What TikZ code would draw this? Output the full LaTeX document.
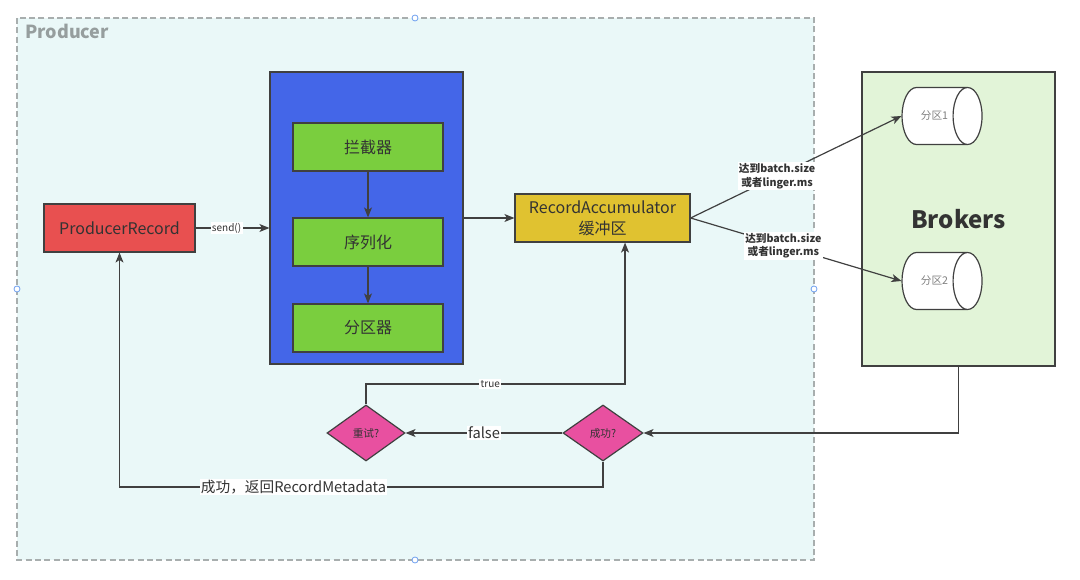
\documentclass[tikz,border=0pt]{standalone}
\usepackage{fontspec}
\setmainfont{Noto Sans CJK SC}
\usetikzlibrary{shapes.geometric,arrows.meta}

\definecolor{producerfill}{RGB}{234,248,248}
\definecolor{producerline}{RGB}{168,174,174}
\definecolor{producergray}{RGB}{150,158,158}
\definecolor{edgegray}{RGB}{64,64,64}
\definecolor{textdark}{RGB}{51,51,51}
\definecolor{recfill}{RGB}{232,80,80}
\definecolor{bluefill}{RGB}{68,102,232}
\definecolor{greenfill}{RGB}{122,206,62}
\definecolor{goldfill}{RGB}{224,194,48}
\definecolor{brokerfill}{RGB}{226,244,216}
\definecolor{pinkfill}{RGB}{232,80,160}
\definecolor{handleblue}{RGB}{110,160,240}

\begin{document}
\begin{tikzpicture}[x=0.75pt,y=0.75pt,yscale=-1,xscale=1,
  box/.style={draw=edgegray,line width=0.9pt,inner sep=0.75pt,text=textdark,font=\fontsize{12}{15.5}\selectfont},
  stage/.style={box,fill=greenfill,minimum width=112.5pt,minimum height=36pt},
  part/.style={cylinder,draw=edgegray,line width=0.9pt,fill=white,minimum height=60pt,minimum width=42.75pt,aspect=3.0,inner sep=0pt,text=gray,font=\fontsize{8}{10}\selectfont},
  decision/.style={diamond,draw=edgegray,line width=0.9pt,fill=pinkfill,minimum width=60pt,minimum height=42pt,inner sep=0pt,text=textdark,font=\fontsize{8}{10}\selectfont},
  edge/.style={draw=edgegray,line width=0.9pt,-{Stealth[length=7.5pt,width=6pt,inset=2pt]}},
  lbl/.style={fill=white,inner sep=1pt,text=textdark},
  batchlbl/.style={lbl,align=center,font=\bfseries\fontsize{8}{10}\selectfont},
  handle/.style={draw=handleblue,fill=white,line width=0.6pt}]
\useasboundingbox (0,0) rectangle (1080,580);

%Producer area
\draw [draw=producerline,fill=producerfill,line width=1pt,dash pattern=on 4.5pt off 2.5pt] (17,18) rectangle (814,560);
% Text Node
\node [anchor=north west,inner sep=0.75pt,text=producergray,font=\bfseries\fontsize{13.5}{16}\selectfont] (producerlbl) at (24,23) {Producer};

%Boxes
\node [box,fill=recfill,minimum width=113.25pt,minimum height=36pt] (rec) at (119.5,228) {ProducerRecord};
\node [box,fill=bluefill,minimum width=144.75pt,minimum height=219pt] (chain) at (366.5,218) {};
\node [stage] (intercept) at (368,147) {拦截器};
\node [stage] (serial) at (368,242) {序列化};
\node [stage] (partsel) at (368,328) {分区器};
\node [box,fill=goldfill,minimum width=131.25pt,minimum height=36pt,align=center] (acc) at (602.5,218) {RecordAccumulator\\缓冲区};
\node [box,fill=brokerfill,minimum width=144.75pt,minimum height=220.5pt,font=\bfseries\fontsize{18}{20}\selectfont] (brokers) at (958.5,219) {Brokers};
\node [part] (p1) at (934.5,116) {分区1};
\node [part] (p2) at (934.5,281) {分区2};
\node [decision] (ok) at (603,433) {成功?};
\node [decision,minimum width=58.5pt] (retry) at (366,433) {重试?};
\coordinate (truebend) at (366,384);
\coordinate (okbend) at (603,487);

%Connectors
\draw [edge] (rec.east) -- node [lbl,pos=0.42,font=\fontsize{7.5}{9}\selectfont] {send()} (rec.east -| chain.west);
\draw [edge] (intercept) -- (serial);
\draw [edge] (serial) -- (partsel);
\draw [edge] (chain.east) -- (acc.west);
\draw [edge] (acc.east) -- node [batchlbl,pos=0.41] {达到batch.size\\或者linger.ms} (p1.west);
\draw [edge] (acc.east) -- node [batchlbl,pos=0.44] {达到batch.size\\或者linger.ms} (p2.west);
\draw [edge] (brokers.south) |- (ok.east);
\draw [edge] (ok.west) -- node [lbl,font=\fontsize{11}{13}\selectfont] {false} (retry.east);
\draw [edge] (retry.north) -- (truebend) -| node [lbl,pos=0.24,font=\fontsize{7.5}{9}\selectfont] {true} ([xshift=16.9pt]acc.south);
\draw [edge] (ok.south) -- (okbend) -| node [lbl,pos=0.32,font=\fontsize{11}{13}\selectfont] {成功，返回RecordMetadata} (rec.south);

%Selection handles
\draw [handle] (415,18) circle (3);
\draw [handle] (415,560) circle (3);
\draw [handle] (17,289) circle (3);
\draw [handle] (814,289) circle (3);

\end{tikzpicture}
\end{document}
